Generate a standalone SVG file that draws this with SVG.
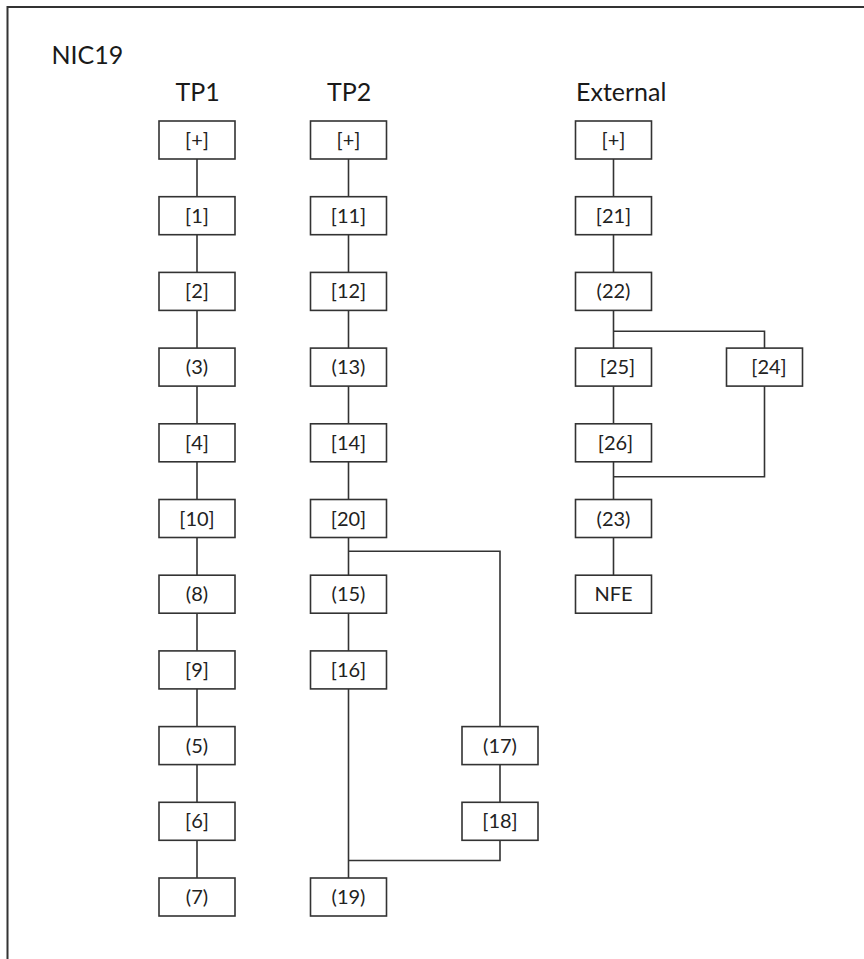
<svg xmlns="http://www.w3.org/2000/svg" width="864" height="959" viewBox="0 0 864 959">
<style>
.b{fill:#fff;stroke:#333;stroke-width:1.6}
.t{font-family:Lato,"Open Sans",sans-serif;font-size:20px;fill:#222;text-anchor:middle}
.h{font-family:Lato,"Open Sans",sans-serif;font-size:25px;fill:#1a1a1a}
.c{fill:none;stroke:#333;stroke-width:1.6}
</style>
<rect x="0" y="0" width="864" height="959" fill="#fff"/>
<path d="M7.5 959 V7 H864" fill="none" stroke="#333" stroke-width="2"/>
<text class="h" x="51.5" y="64">NIC19</text>
<text class="h" x="175.5" y="101">TP1</text>
<text class="h" x="327" y="101">TP2</text>
<text class="h" x="576" y="101">External</text>
<g id="connectors">
<path class="c" d="M197 159 V878"/>
<path class="c" d="M348.5 159 V650.9 M348.5 688.9 V878 M348.5 551.3 H500 V726.6 M500 764.6 V802.3 M500 840.3 V860.5 H348.5"/>
<path class="c" d="M613.5 159 V499.5 M613.5 537.5 V575.2 M613.5 331.3 H764.5 V348.1 M764.5 386.1 V476.7 H613.5"/>
</g>
<g id="tp1_plus"><rect class="b" x="159" y="121" width="76" height="38"/><text class="t" x="197" y="147">[+]</text></g>
<g id="tp1_1"><rect class="b" x="159" y="196.7" width="76" height="38"/><text class="t" x="197" y="222.7">[1]</text></g>
<g id="tp1_2"><rect class="b" x="159" y="272.4" width="76" height="38"/><text class="t" x="197" y="298.4">[2]</text></g>
<g id="tp1_3"><rect class="b" x="159" y="348.1" width="76" height="38"/><text class="t" x="197" y="374.1">(3)</text></g>
<g id="tp1_4"><rect class="b" x="159" y="423.8" width="76" height="38"/><text class="t" x="197" y="449.8">[4]</text></g>
<g id="tp1_10"><rect class="b" x="159" y="499.5" width="76" height="38"/><text class="t" x="197" y="525.5">[10]</text></g>
<g id="tp1_8"><rect class="b" x="159" y="575.2" width="76" height="38"/><text class="t" x="197" y="601.2">(8)</text></g>
<g id="tp1_9"><rect class="b" x="159" y="650.9" width="76" height="38"/><text class="t" x="197" y="676.9">[9]</text></g>
<g id="tp1_5"><rect class="b" x="159" y="726.6" width="76" height="38"/><text class="t" x="197" y="752.6">(5)</text></g>
<g id="tp1_6"><rect class="b" x="159" y="802.3" width="76" height="38"/><text class="t" x="197" y="828.3">[6]</text></g>
<g id="tp1_7"><rect class="b" x="159" y="878" width="76" height="38"/><text class="t" x="197" y="904">(7)</text></g>
<g id="tp2_plus"><rect class="b" x="310.5" y="121" width="76" height="38"/><text class="t" x="348.5" y="147">[+]</text></g>
<g id="tp2_11"><rect class="b" x="310.5" y="196.7" width="76" height="38"/><text class="t" x="348.5" y="222.7">[11]</text></g>
<g id="tp2_12"><rect class="b" x="310.5" y="272.4" width="76" height="38"/><text class="t" x="348.5" y="298.4">[12]</text></g>
<g id="tp2_13"><rect class="b" x="310.5" y="348.1" width="76" height="38"/><text class="t" x="348.5" y="374.1">(13)</text></g>
<g id="tp2_14"><rect class="b" x="310.5" y="423.8" width="76" height="38"/><text class="t" x="348.5" y="449.8">[14]</text></g>
<g id="tp2_20"><rect class="b" x="310.5" y="499.5" width="76" height="38"/><text class="t" x="348.5" y="525.5">[20]</text></g>
<g id="tp2_15"><rect class="b" x="310.5" y="575.2" width="76" height="38"/><text class="t" x="348.5" y="601.2">(15)</text></g>
<g id="tp2_16"><rect class="b" x="310.5" y="650.9" width="76" height="38"/><text class="t" x="348.5" y="676.9">[16]</text></g>
<g id="tp2_17"><rect class="b" x="462" y="726.6" width="76" height="38"/><text class="t" x="500" y="752.6">(17)</text></g>
<g id="tp2_18"><rect class="b" x="462" y="802.3" width="76" height="38"/><text class="t" x="500" y="828.3">[18]</text></g>
<g id="tp2_19"><rect class="b" x="310.5" y="878" width="76" height="38"/><text class="t" x="348.5" y="904">(19)</text></g>
<g id="ext_plus"><rect class="b" x="575.5" y="121" width="76" height="38"/><text class="t" x="613.5" y="147">[+]</text></g>
<g id="ext_21"><rect class="b" x="575.5" y="196.7" width="76" height="38"/><text class="t" x="613.5" y="222.7">[21]</text></g>
<g id="ext_22"><rect class="b" x="575.5" y="272.4" width="76" height="38"/><text class="t" x="613.5" y="298.4">(22)</text></g>
<g id="ext_25"><rect class="b" x="575.5" y="348.1" width="76" height="38"/><text class="t" x="617.5" y="374.1">[25]</text></g>
<g id="ext_24"><rect class="b" x="726.5" y="348.1" width="76" height="38"/><text class="t" x="769" y="374.1">[24]</text></g>
<g id="ext_26"><rect class="b" x="575.5" y="423.8" width="76" height="38"/><text class="t" x="615.5" y="449.8">[26]</text></g>
<g id="ext_23"><rect class="b" x="575.5" y="499.5" width="76" height="38"/><text class="t" x="613.5" y="525.5">(23)</text></g>
<g id="ext_nfe"><rect class="b" x="575.5" y="575.2" width="76" height="38"/><text class="t" x="613.5" y="601.2">NFE</text></g>
</svg>
